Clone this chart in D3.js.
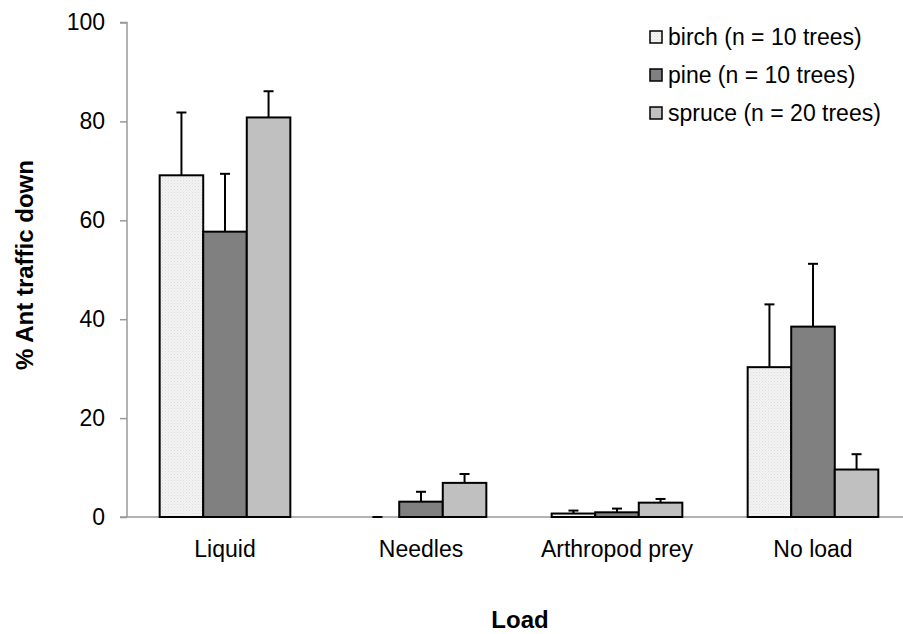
<!DOCTYPE html>
<html><head><meta charset="utf-8">
<script src="https://cdn.jsdelivr.net/npm/d3@7"></script>
<style>body{margin:0;background:#fff}</style>
</head><body>
<svg id="chart" width="903" height="634"></svg>
<script>
const categories = ["Liquid", "Needles", "Arthropod prey", "No load"];
const seriesNames = ["birch (n = 10 trees)", "pine (n = 10 trees)", "spruce (n = 20 trees)"];
const birch = [69.1, 0, 0.7, 30.3];
const birchErr = [12.7, 0, 0.6, 12.7];
const pine = [57.7, 3.1, 0.95, 38.5];
const pineErr = [11.7, 2.0, 0.75, 12.7];
const spruce = [80.8, 6.9, 2.9, 9.6];
const spruceErr = [5.3, 1.8, 0.75, 3.1];
const yTicks = [0, 20, 40, 60, 80, 100];
const fills = ["url(#birchPat)", "#808080", "#c0c0c0"];

const values = [birch, pine, spruce];
const errs = [birchErr, pineErr, spruceErr];
const FONT = "Liberation Sans, Arial, sans-serif";

const svg = d3.select("#chart");
const defs = svg.append("defs");
const pat = defs.append("pattern").attr("id","birchPat").attr("patternUnits","userSpaceOnUse").attr("width",3).attr("height",3);
pat.append("rect").attr("width",3).attr("height",3).attr("fill","#f3f3f3");
pat.append("rect").attr("width",1).attr("height",1).attr("fill","#dcdcdc");
pat.append("rect").attr("x",1.5).attr("y",1.5).attr("width",1).attr("height",1).attr("fill","#e4e4e4");

const x0 = 127, step = 196;
const x = d3.scaleBand().domain(categories).range([x0, x0 + step*categories.length]).paddingInner(0).paddingOuter(0);
const inner = d3.scaleBand().domain(d3.range(3)).range([0, x.bandwidth()]).paddingInner(0).paddingOuter(0.75);
const y = d3.scaleLinear().domain([0, 100]).range([517, 22.5]);

// y axis
const yAxis = svg.append("g").attr("transform", `translate(${x0},0)`)
  .call(d3.axisLeft(y).tickValues(yTicks).tickSize(7).tickPadding(15).tickFormat(d3.format("d")));
yAxis.select(".domain").attr("stroke","#999").attr("stroke-width",1.5).attr("d", `M-7,${y(100)}H0V${y(0)}`);
yAxis.selectAll(".tick line").attr("stroke","#999").attr("stroke-width",1.5);
yAxis.selectAll(".tick text").attr("font-family",FONT).attr("font-size",23).attr("fill","#000");

// x baseline
svg.append("line").attr("x1", x0-7).attr("x2", 903).attr("y1", y(0)).attr("y2", y(0)).attr("stroke","#999").attr("stroke-width",1.5);

// bars
categories.forEach((c, ci) => {
  values.forEach((vals, si) => {
    const bx = x(c) + inner(si);
    const bw = inner.bandwidth();
    const v = vals[ci], e = errs[si][ci];
    const cx = bx + bw/2;
    svg.append("line").attr("x1", cx).attr("x2", cx).attr("y1", y(v)).attr("y2", y(v+e)).attr("stroke","#000").attr("stroke-width",2);
    svg.append("line").attr("x1", cx-5).attr("x2", cx+5).attr("y1", y(v+e)).attr("y2", y(v+e)).attr("stroke","#000").attr("stroke-width",2);
    if (v > 0) {
      svg.append("rect").attr("x", bx).attr("y", y(v)).attr("width", bw).attr("height", y(0)-y(v))
        .attr("fill", fills[si]).attr("stroke","#000").attr("stroke-width",2);
    }
  });
  svg.append("text").attr("x", x(c) + x.bandwidth()/2).attr("y", 557).attr("text-anchor","middle")
    .attr("font-family",FONT).attr("font-size",23).text(c);
});

// legend
seriesNames.forEach((n, i) => {
  const ly = 37 + i*38;
  svg.append("rect").attr("x", 650).attr("y", ly-6).attr("width", 12).attr("height", 12)
    .attr("fill", fills[i]).attr("stroke","#000").attr("stroke-width",1.5);
  svg.append("text").attr("x", 668).attr("y", ly+8).attr("font-family",FONT)
    .attr("font-size",23).text(n);
});

// axis titles
svg.append("text").attr("transform","translate(33,265) rotate(-90)").attr("text-anchor","middle")
  .attr("font-family",FONT).attr("font-size",24).attr("font-weight","bold").text("% Ant traffic down");
svg.append("text").attr("x", 520).attr("y", 628).attr("text-anchor","middle")
  .attr("font-family",FONT).attr("font-size",24).attr("font-weight","bold").text("Load");
</script>
</body></html>
